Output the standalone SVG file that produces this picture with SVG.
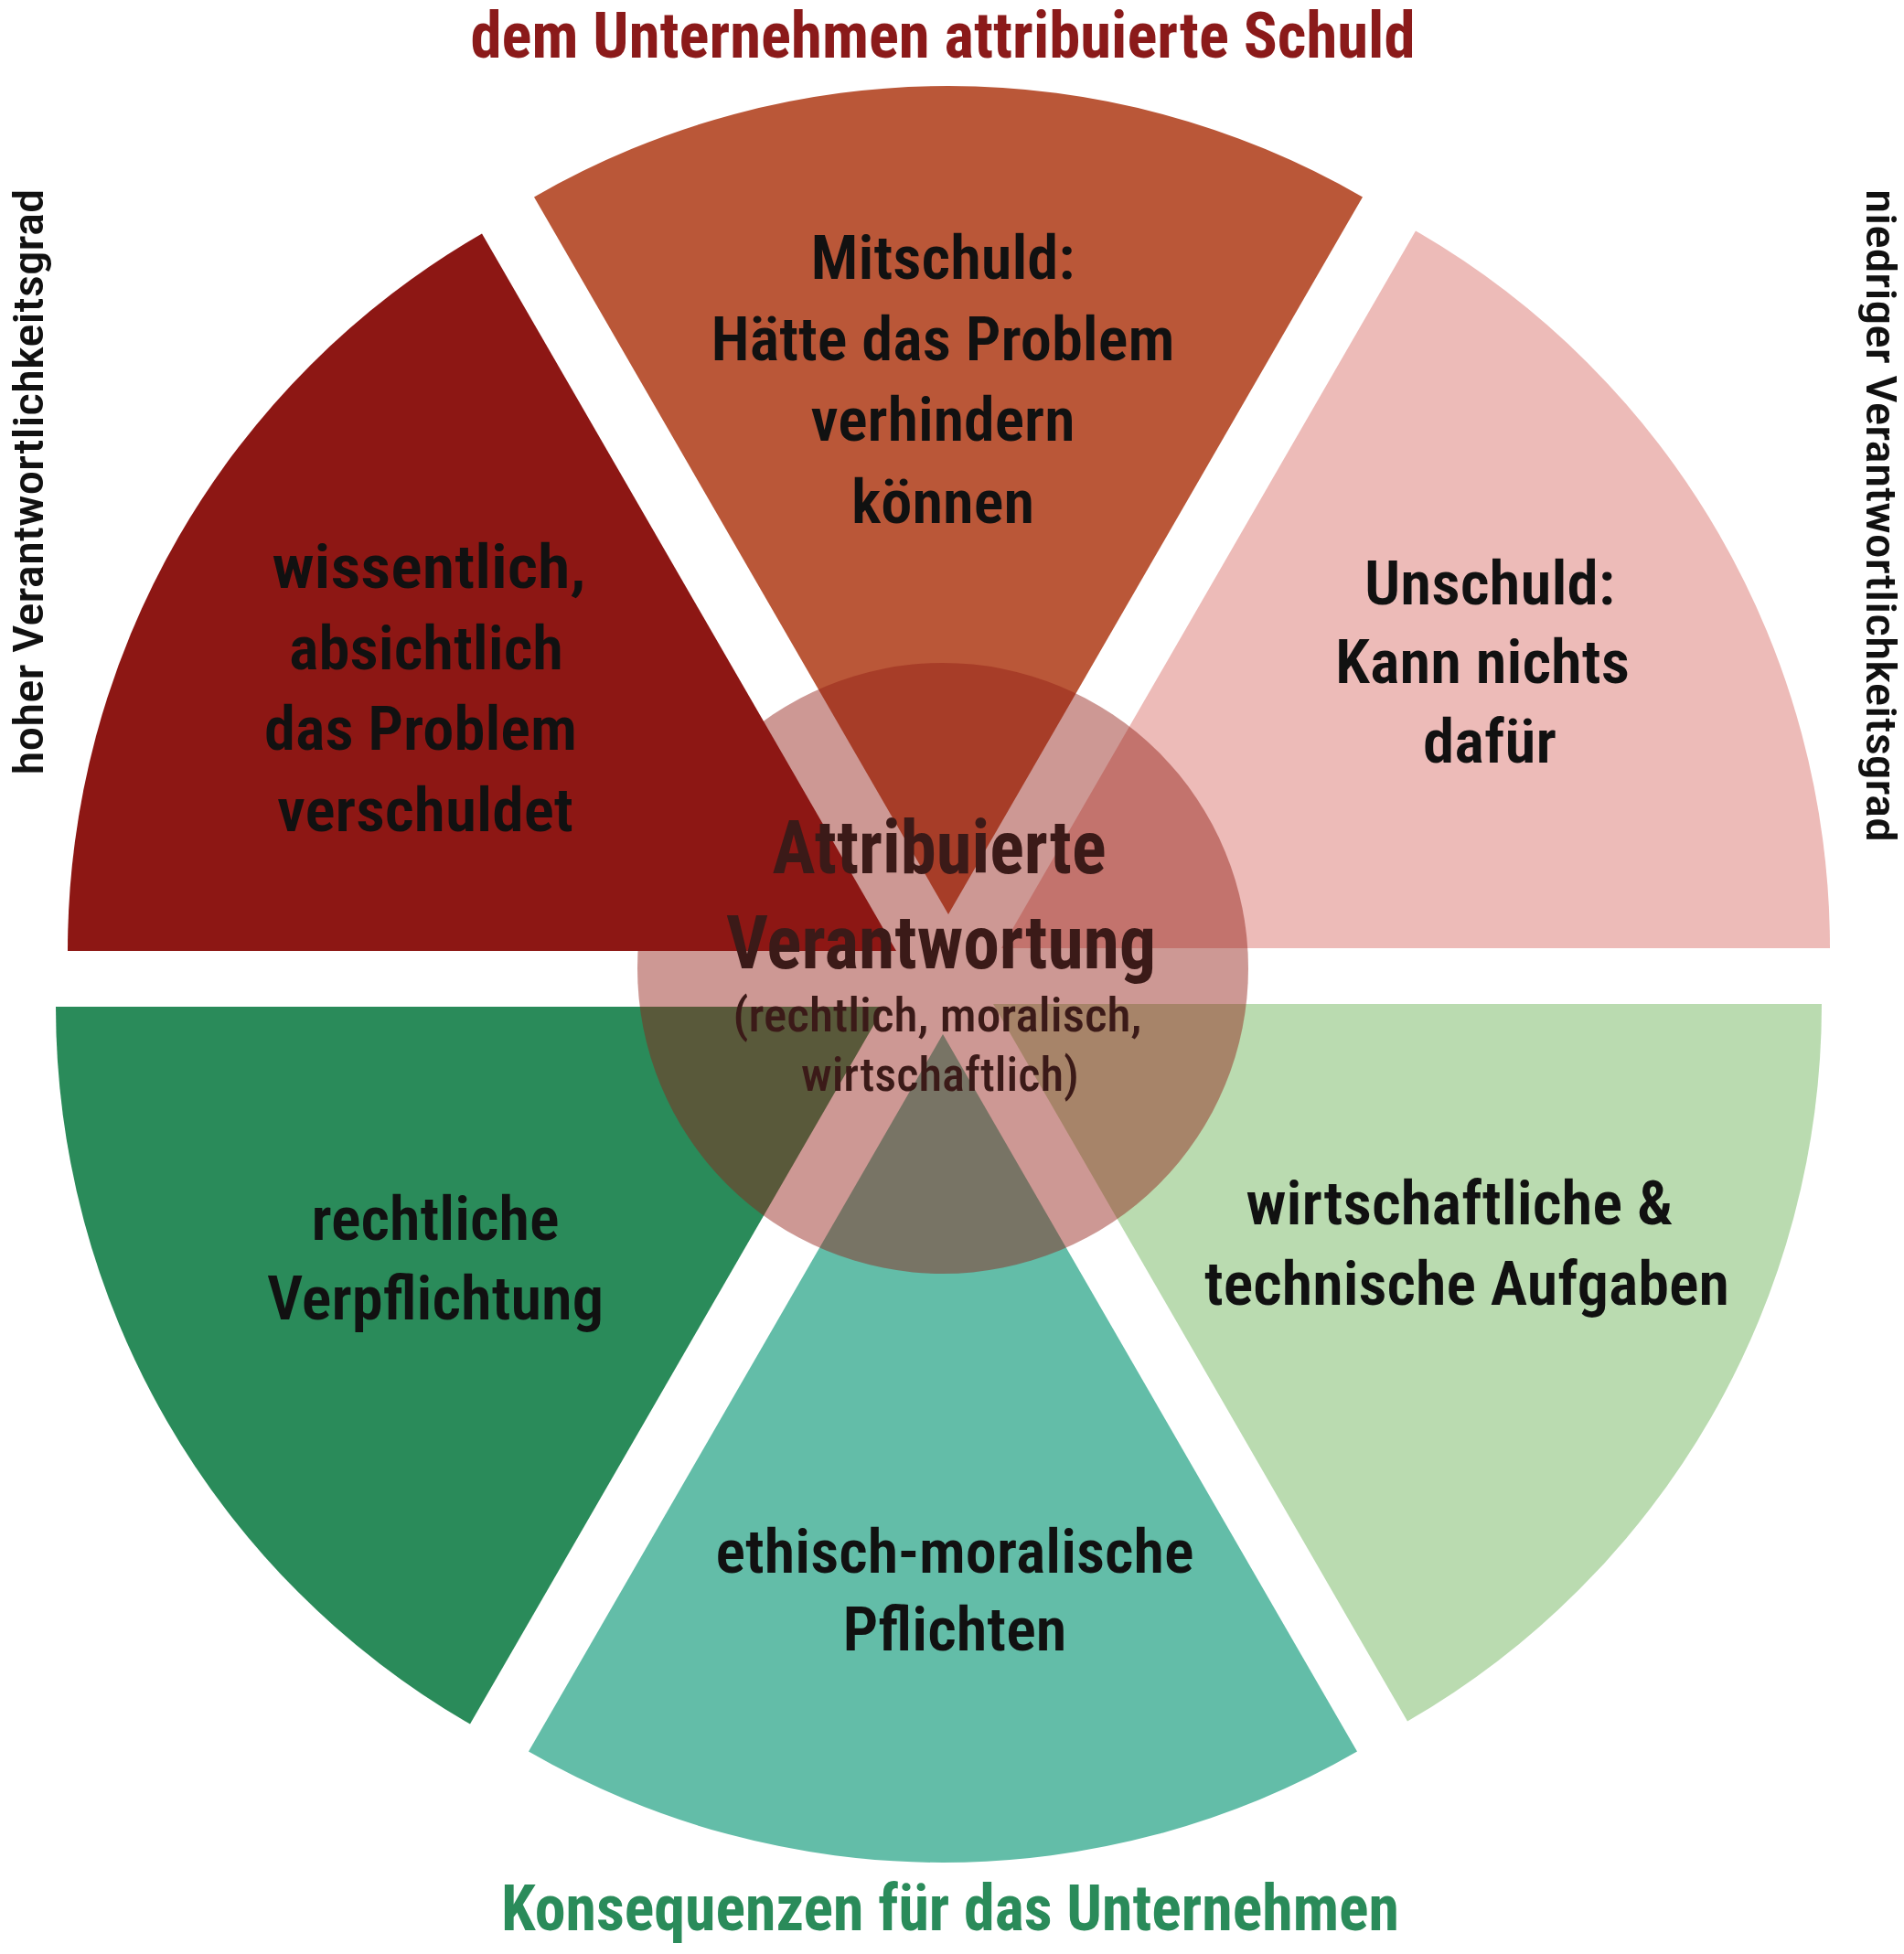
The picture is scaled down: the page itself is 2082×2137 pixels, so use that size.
<svg xmlns="http://www.w3.org/2000/svg" width="2082" height="2137" viewBox="0 0 2082 2137">
<style>
text{font-family:"Liberation Sans Narrow","Roboto Condensed","Liberation Sans",Arial,sans-serif;text-anchor:middle}
.lbl{font-size:66px;font-weight:600;fill:#111111}
.ttl{font-size:70px;font-weight:bold}
.side{font-size:46px;font-weight:500;fill:#111111}
.big{font-size:82px;font-weight:bold;fill:#3B1A18}
.sub{font-size:52px;font-weight:500;fill:#3B1A18}
</style>
<rect width="2082" height="2137" fill="#ffffff"/>
<g id="sector-mitschuld">
<path d="M1037,1000 L584,215.4 A906,906 0 0 1 1490,215.4 Z" fill="#BA5738"/>
<text class="lbl" x="1031" y="305" textLength="289" lengthAdjust="spacingAndGlyphs">Mitschuld:</text>
<text class="lbl" x="1031" y="394" textLength="507" lengthAdjust="spacingAndGlyphs">Hätte das Problem</text>
<text class="lbl" x="1031" y="482" textLength="289" lengthAdjust="spacingAndGlyphs">verhindern</text>
<text class="lbl" x="1031" y="572" textLength="200" lengthAdjust="spacingAndGlyphs">können</text>
</g>
<g id="sector-unschuld">
<path d="M1095,1037 L1548,252.4 A906,906 0 0 1 2001,1037 Z" fill="#EDBBB8"/>
<text class="lbl" x="1629" y="661" textLength="274" lengthAdjust="spacingAndGlyphs">Unschuld:</text>
<text class="lbl" x="1621" y="747" textLength="322" lengthAdjust="spacingAndGlyphs">Kann nichts</text>
<text class="lbl" x="1629" y="834" textLength="146" lengthAdjust="spacingAndGlyphs">dafür</text>
</g>
<g id="sector-wirtschaftlich">
<path d="M1086,1098 L1992,1098 A906,906 0 0 1 1539,1882.6 Z" fill="#BADBB0"/>
<text class="lbl" x="1596" y="1339" textLength="467" lengthAdjust="spacingAndGlyphs">wirtschaftliche &amp;</text>
<text class="lbl" x="1604" y="1427" textLength="574" lengthAdjust="spacingAndGlyphs">technische Aufgaben</text>
</g>
<g id="sector-ethisch">
<path d="M1031,1131 L1484,1915.6 A906,906 0 0 1 578,1915.6 Z" fill="#63BDA8"/>
<text class="lbl" x="1044" y="1720" textLength="523" lengthAdjust="spacingAndGlyphs">ethisch-moralische</text>
<text class="lbl" x="1044" y="1805" textLength="245" lengthAdjust="spacingAndGlyphs">Pflichten</text>
</g>
<g id="sector-rechtlich">
<path d="M967,1101 L514,1885.6 A906,906 0 0 1 61,1101 Z" fill="#2A8B5A"/>
<text class="lbl" x="476" y="1356" textLength="271" lengthAdjust="spacingAndGlyphs">rechtliche</text>
<text class="lbl" x="476" y="1443" textLength="368" lengthAdjust="spacingAndGlyphs">Verpflichtung</text>
</g>
<g id="center-disc">
<circle cx="1031" cy="1059" r="334" fill="#911E16" fill-opacity="0.46"/>
</g>
<g id="sector-wissentlich">
<path d="M980,1040 L74,1040 A906,906 0 0 1 527,255.4 Z" fill="#8D1714"/>
<text class="lbl" x="469" y="643" textLength="343" lengthAdjust="spacingAndGlyphs">wissentlich,</text>
<text class="lbl" x="466" y="732" textLength="300" lengthAdjust="spacingAndGlyphs">absichtlich</text>
<text class="lbl" x="460" y="820" textLength="342" lengthAdjust="spacingAndGlyphs">das Problem</text>
<text class="lbl" x="465" y="909" textLength="324" lengthAdjust="spacingAndGlyphs">verschuldet</text>
</g>
<g id="center-label">
<text class="big" x="1027" y="955" textLength="365" lengthAdjust="spacingAndGlyphs">Attribuierte</text>
<text class="big" x="1029" y="1059" textLength="470" lengthAdjust="spacingAndGlyphs">Verantwortung</text>
<text class="sub" x="1025" y="1128" textLength="447" lengthAdjust="spacingAndGlyphs">(rechtlich, moralisch,</text>
<text class="sub" x="1028" y="1193" textLength="304" lengthAdjust="spacingAndGlyphs">wirtschaftlich)</text>
</g>
<g id="labels">
<text class="ttl" x="1031" y="63" fill="#8B1A1A" textLength="1033" lengthAdjust="spacingAndGlyphs">dem Unternehmen attribuierte Schuld</text>
<text class="ttl" x="1039" y="2111" fill="#2A8B5A" textLength="982" lengthAdjust="spacingAndGlyphs">Konsequenzen für das Unternehmen</text>
<text class="side" transform="translate(47,527) rotate(-90)" textLength="641" lengthAdjust="spacingAndGlyphs">hoher Verantwortlichkeitsgrad</text>
<text class="side" transform="translate(2041,564) rotate(90)" textLength="714" lengthAdjust="spacingAndGlyphs">niedriger Verantwortlichkeitsgrad</text>
</g>
</svg>
